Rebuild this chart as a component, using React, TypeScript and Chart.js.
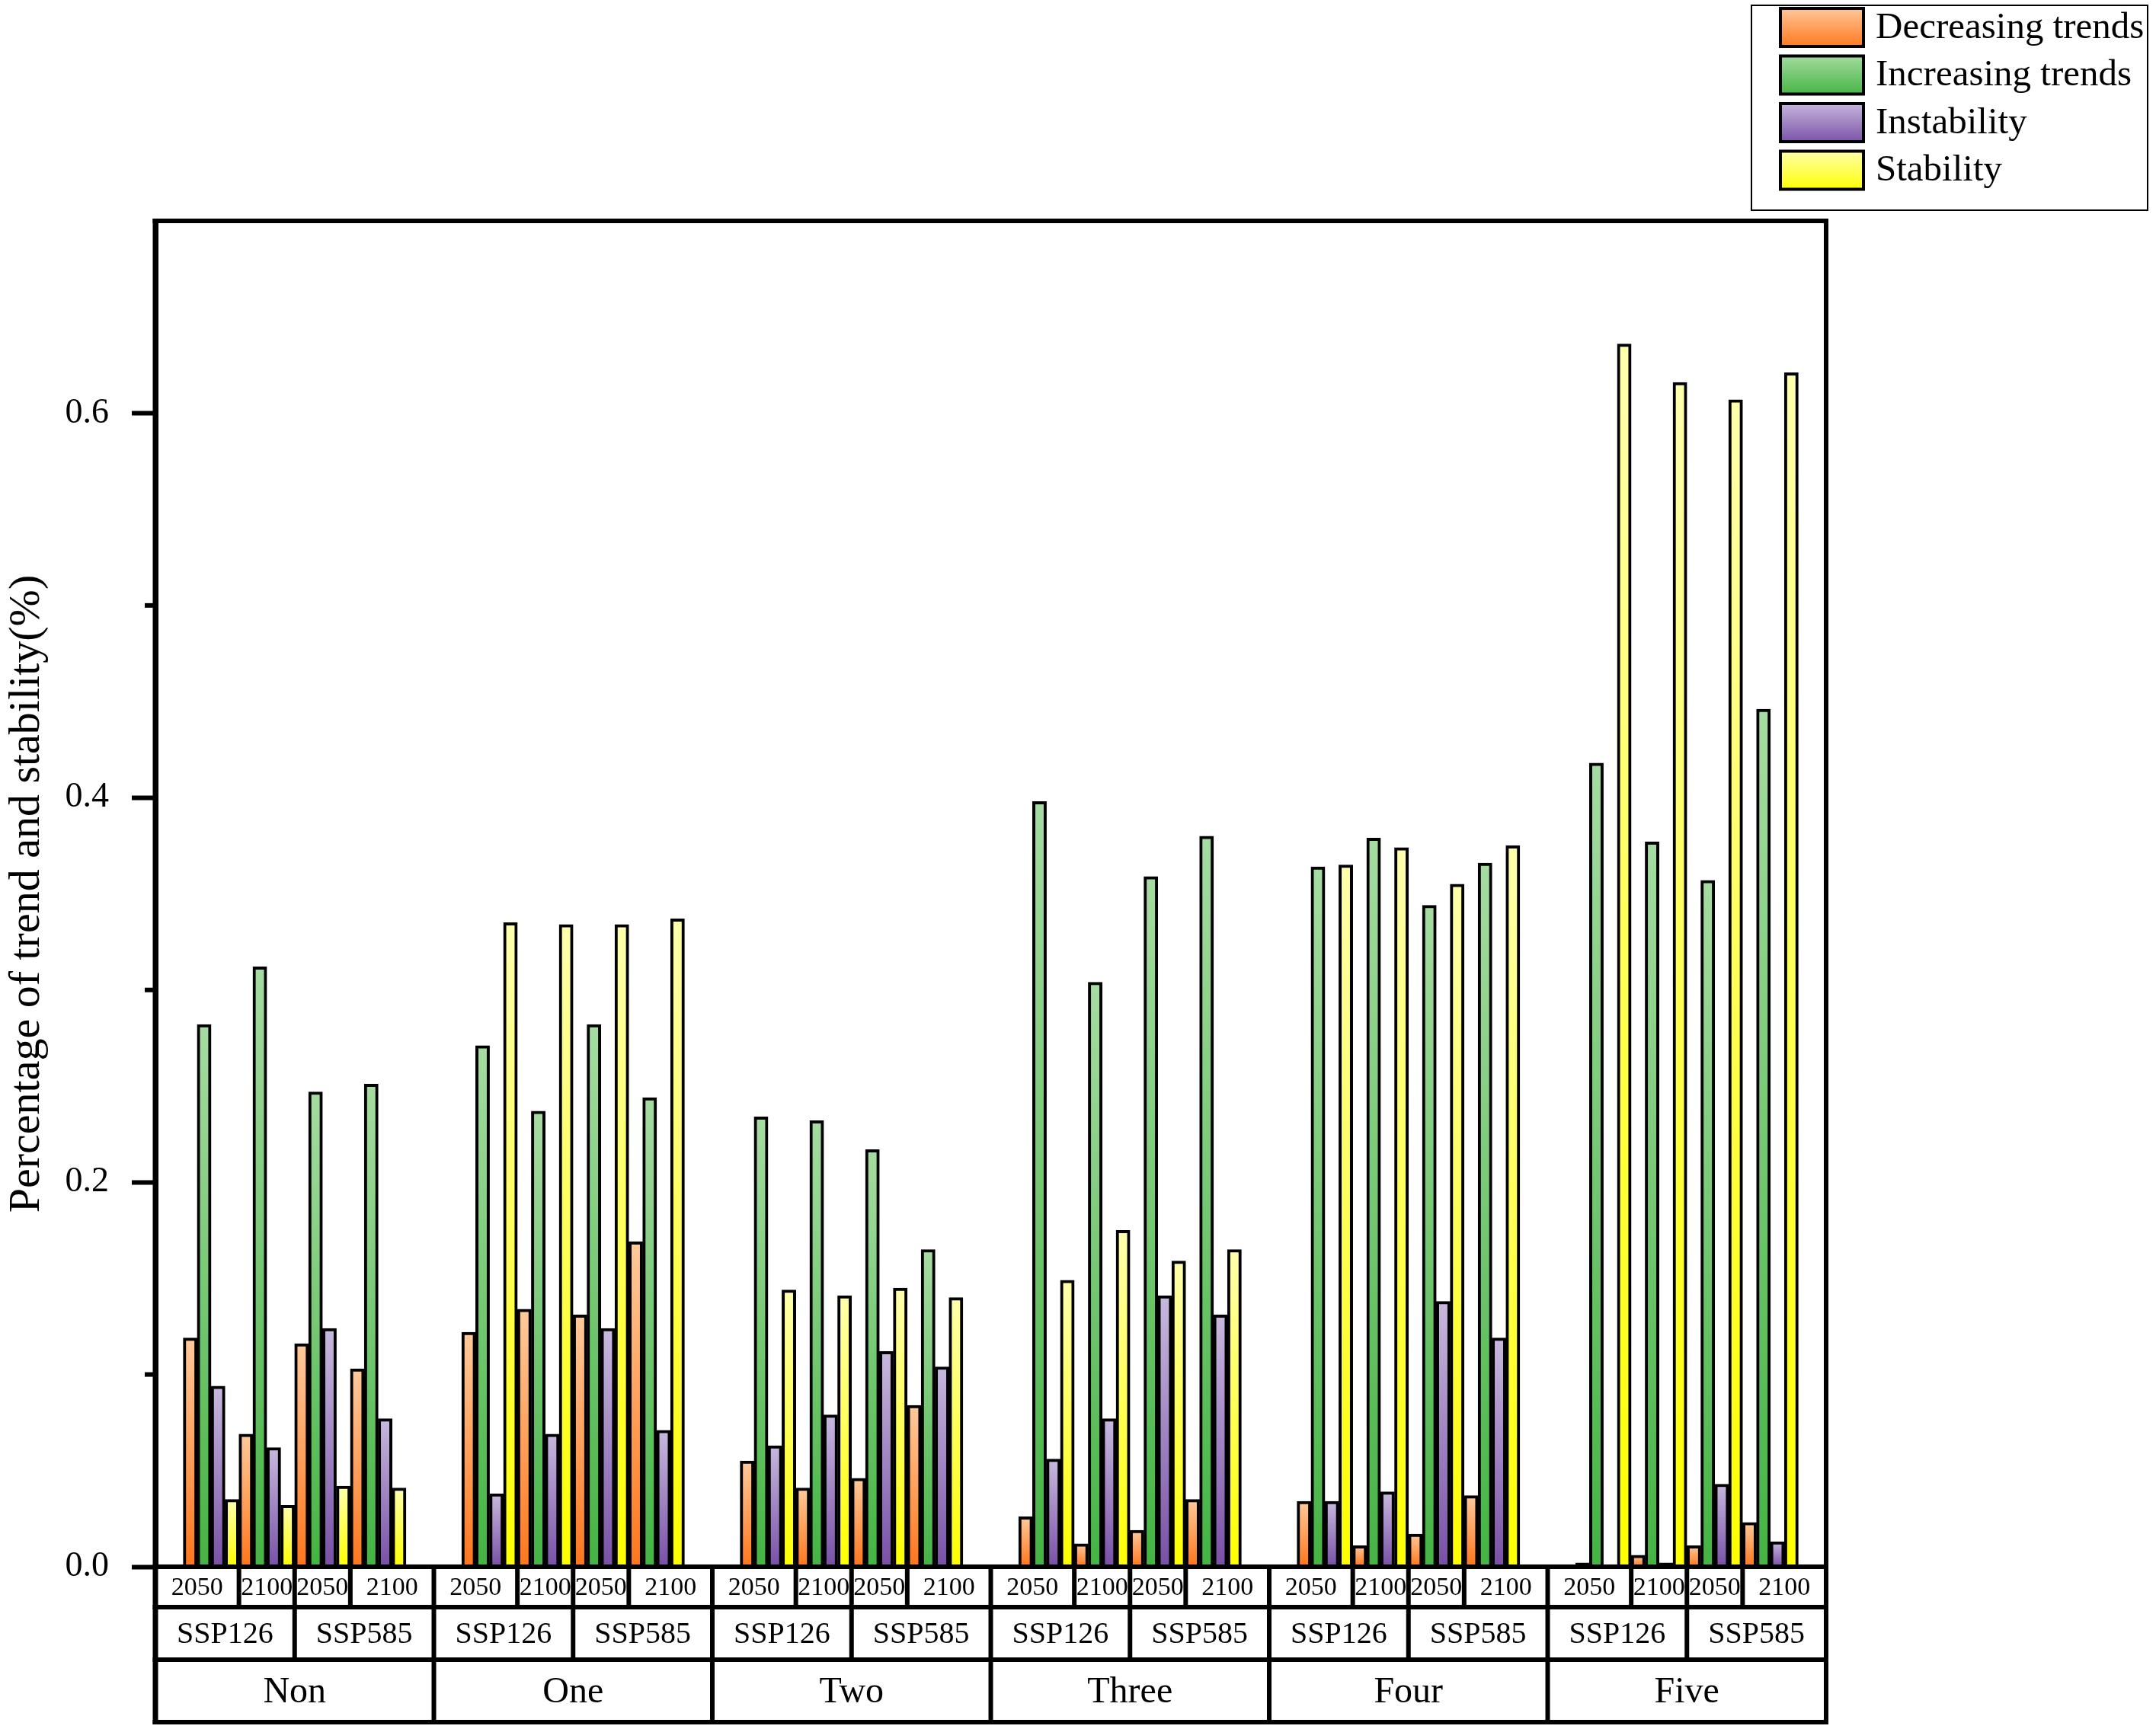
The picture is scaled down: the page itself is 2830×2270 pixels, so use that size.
import React, { useEffect, useRef } from "react";
import { Chart, registerables } from "chart.js";

Chart.register(...registerables);

// ---- data ----
const groups = ["Non", "One", "Two", "Three", "Four", "Five"];
const scenarios = ["SSP126", "SSP585"];
const years = ["2050", "2100"];

// order inside each group: SSP126-2050, SSP126-2100, SSP585-2050, SSP585-2100
const decreasing = [
  0.119, 0.069, 0.116, 0.103,
  0.122, 0.134, 0.131, 0.169,
  0.055, 0.041, 0.046, 0.084,
  0.026, 0.012, 0.019, 0.035,
  0.034, 0.011, 0.017, 0.037,
  0.002, 0.006, 0.011, 0.023,
];
const increasing = [
  0.282, 0.312, 0.247, 0.251,
  0.271, 0.237, 0.282, 0.244,
  0.234, 0.232, 0.217, 0.165,
  0.398, 0.304, 0.359, 0.38,
  0.364, 0.379, 0.344, 0.366,
  0.418, 0.377, 0.357, 0.446,
];
const instability = [
  0.094, 0.062, 0.124, 0.077,
  0.038, 0.069, 0.124, 0.071,
  0.063, 0.079, 0.112, 0.104,
  0.056, 0.077, 0.141, 0.131,
  0.034, 0.039, 0.138, 0.119,
  0.001, 0.002, 0.043, 0.013,
];
const stability = [
  0.035, 0.032, 0.042, 0.041,
  0.335, 0.334, 0.334, 0.337,
  0.144, 0.141, 0.145, 0.14,
  0.149, 0.175, 0.159, 0.165,
  0.365, 0.374, 0.355, 0.375,
  0.636, 0.616, 0.607, 0.621,
];

const seriesNames = ["Decreasing trends", "Increasing trends", "Instability", "Stability"];
const seriesValues = [decreasing, increasing, instability, stability];
const seriesColors: [string, string][] = [
  ["#FFCA9C", "#FF761C"],
  ["#A6DCA2", "#44B443"],
  ["#C8B9DE", "#7850A6"],
  ["#FFFFAE", "#FFFF00"],
];

const yTicks = [0, 0.1, 0.2, 0.3, 0.4, 0.5, 0.6, 0.7];

// slot layout: each group has 20 category slots, bars use the middle 16
const SLOTS = 20;
const LEAD = 2;
const FONT = "'Liberation Serif', 'Times New Roman', serif";

const slotLabels: string[] = [];
groups.forEach((g) => {
  for (let s = 0; s < SLOTS; s++) slotLabels.push(`${g}-${s}`);
});

const toSlots = (values: number[], seriesIdx: number) => {
  const out: (number | null)[] = new Array(groups.length * SLOTS).fill(null);
  values.forEach((v, i) => {
    const g = Math.floor(i / 4);
    const sub = i % 4;
    out[g * SLOTS + LEAD + sub * 4 + seriesIdx] = v;
  });
  return out;
};

const gradientFill = (top: string, bottom: string) => (ctx: any) => {
  const chart = ctx.chart;
  const yScale = chart.scales?.y;
  if (!chart.chartArea || !yScale || ctx.raw == null) return bottom;
  const y0 = yScale.getPixelForValue(ctx.raw);
  let y1 = yScale.getPixelForValue(0);
  if (y1 - y0 < 1) y1 = y0 + 1;
  const g = chart.ctx.createLinearGradient(0, y0, 0, y1);
  g.addColorStop(0, top);
  g.addColorStop(1, bottom);
  return g;
};

const LINE = 6;

const tablePlugin = {
  id: "tableAndFrame",
  afterDraw(chart: any) {
    const { ctx, chartArea, scales } = chart;
    const x = scales.x;
    const y = scales.y;
    const { left, right, top, bottom } = chartArea;
    const slotW = (right - left) / (groups.length * SLOTS);
    const edge = (idx: number) => x.getPixelForValue(idx) - slotW / 2;
    const rowY = [bottom, bottom + 53, bottom + 122, bottom + 204];

    ctx.save();
    ctx.strokeStyle = "#000";
    ctx.lineCap = "butt";

    // minor ticks
    ctx.lineWidth = 6;
    y.ticks.forEach((t: any, i: number) => {
      if (i % 2 === 1 && t.value < y.max) {
        const py = y.getPixelForValue(t.value);
        ctx.beginPath();
        ctx.moveTo(left - 14, py);
        ctx.lineTo(left, py);
        ctx.stroke();
      }
    });

    const hline = (yy: number, x1: number, x2: number) => {
      ctx.beginPath();
      ctx.moveTo(x1, yy);
      ctx.lineTo(x2, yy);
      ctx.stroke();
    };
    const vline = (xx: number, y1: number, y2: number) => {
      ctx.beginPath();
      ctx.moveTo(xx, y1);
      ctx.lineTo(xx, y2);
      ctx.stroke();
    };

    // frame
    ctx.lineWidth = LINE;
    hline(top, left - 3.5, right + 3);
    rowY.forEach((ry) => hline(ry, left - 3.5, right + 3));
    ctx.lineWidth = 7;
    vline(left, top - 3, rowY[3] + 3);
    ctx.lineWidth = LINE;
    vline(right, top - 3, rowY[3] + 3);

    ctx.fillStyle = "#000";
    ctx.textAlign = "center";
    ctx.textBaseline = "middle";

    groups.forEach((name, g) => {
      const gl = g === 0 ? left : edge(g * SLOTS);
      const gr = g === groups.length - 1 ? right : edge((g + 1) * SLOTS);
      const b = [1, 2, 3].map((k) => edge(g * SLOTS + LEAD + k * 4));
      if (g > 0) vline(gl, rowY[0], rowY[3]);
      vline(b[1], rowY[0], rowY[2]);
      vline(b[0], rowY[0], rowY[1]);
      vline(b[2], rowY[0], rowY[1]);

      // year row
      ctx.font = `34px ${FONT}`;
      const yearCells = [gl, b[0], b[1], b[2], gr];
      for (let k = 0; k < 4; k++) {
        ctx.fillText(years[k % 2], (yearCells[k] + yearCells[k + 1]) / 2, (rowY[0] + rowY[1]) / 2 + 2);
      }
      // scenario row
      ctx.font = `40px ${FONT}`;
      ctx.fillText(scenarios[0], (gl + b[1]) / 2, (rowY[1] + rowY[2]) / 2 + 2);
      ctx.fillText(scenarios[1], (b[1] + gr) / 2, (rowY[1] + rowY[2]) / 2 + 2);
      // group row
      ctx.font = `48px ${FONT}`;
      ctx.fillText(name, (gl + gr) / 2, (rowY[2] + rowY[3]) / 2 + 2);
    });

    // legend
    const lx = 2299, ly = 7, lw = 520, lh = 269;
    ctx.lineWidth = 2;
    ctx.strokeRect(lx, ly, lw, lh);
    ctx.textAlign = "left";
    ctx.font = `49px ${FONT}`;
    chart.data.datasets.forEach((ds: any, i: number) => {
      const sy = 9 + i * 62.5;
      const sx = 2335, sw = 113, sh = 54;
      const [c1, c2] = seriesColors[i];
      const grad = ctx.createLinearGradient(0, sy, 0, sy + sh);
      grad.addColorStop(0, c1);
      grad.addColorStop(1, c2);
      ctx.fillStyle = "#000";
      ctx.fillRect(sx, sy, sw, sh);
      ctx.fillStyle = grad;
      ctx.fillRect(sx + 4, sy + 4, sw - 8, sh - 8);
      ctx.fillStyle = "#000";
      ctx.fillText(ds.label, 2462, sy + sh / 2 + 1);
    });
    ctx.restore();
  },
};

const App: React.FC = () => {
  const canvasRef = useRef<HTMLCanvasElement | null>(null);
  const chartRef = useRef<Chart | null>(null);

  useEffect(() => {
    if (!canvasRef.current) return;
    if (chartRef.current) chartRef.current.destroy();
    const ctx = canvasRef.current.getContext("2d");
    if (!ctx) return;

    Chart.defaults.font.family = FONT;
    Chart.defaults.color = "#000";

    chartRef.current = new Chart(ctx, {
      type: "bar",
      data: {
        labels: slotLabels,
        datasets: seriesNames.map((name, i) => ({
          label: name,
          data: toSlots(seriesValues[i], i),
          backgroundColor: gradientFill(seriesColors[i][0], seriesColors[i][1]),
          borderColor: "#000",
          borderWidth: 4,
          grouped: false,
          barPercentage: 1,
          categoryPercentage: 1,
        })),
      },
      options: {
        responsive: false,
        devicePixelRatio: 1,
        animation: false,
        layout: { padding: { left: 0, top: 290, right: 433, bottom: 0 } },
        plugins: {
          legend: { display: false },
          tooltip: { enabled: false },
        },
        scales: {
          x: {
            type: "category",
            offset: true,
            grid: { display: false },
            border: { display: false },
            ticks: { display: false },
            afterFit: (scale: any) => {
              scale.height = 213;
            },
          },
          y: {
            min: 0,
            max: 0.7,
            afterBuildTicks: (scale: any) => {
              scale.ticks = yTicks.map((v) => ({ value: v }));
            },
            ticks: {
              padding: 30,
              font: { size: 46, family: FONT },
              color: "#000",
              callback: (v: any, i: number) =>
                i % 2 === 0 && Number(v) < 0.7 ? Number(v).toFixed(1) : "",
            },
            grid: {
              drawOnChartArea: false,
              drawTicks: true,
              tickLength: 31,
              tickWidth: 6,
              tickColor: (c: any) =>
                c.index % 2 === 0 && c.tick && c.tick.value < 0.7 ? "#000" : "rgba(0,0,0,0)",
            },
            border: { display: true, color: "#000", width: 7 },
            title: {
              display: true,
              text: "Percentage of trend and stability(%)",
              font: { size: 58, family: FONT },
              color: "#000",
              padding: { top: 1, bottom: 0 },
            },
            afterFit: (scale: any) => {
              scale.width = 204;
            },
          },
        },
      },
      plugins: [tablePlugin],
    });

    return () => {
      if (chartRef.current) {
        chartRef.current.destroy();
        chartRef.current = null;
      }
    };
  }, []);

  return (
    <div style={{ position: "fixed", left: 0, top: 0, width: 2830, height: 2270, background: "#fff" }}>
      <canvas ref={canvasRef} width={2830} height={2270} />
    </div>
  );
};

export default App;
